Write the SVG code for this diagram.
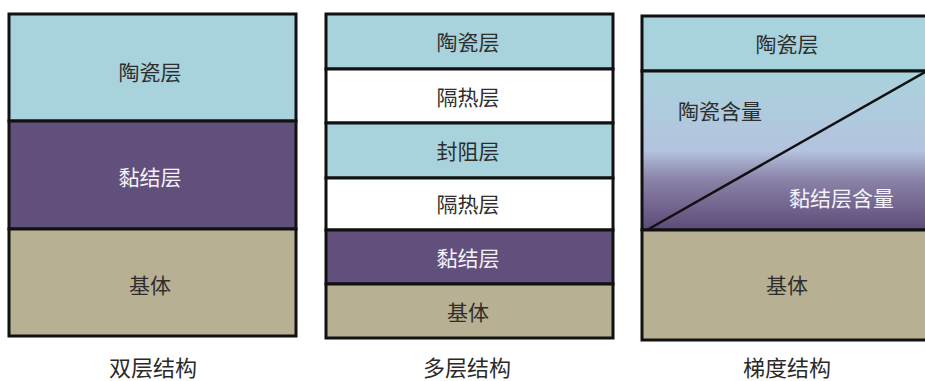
<svg xmlns="http://www.w3.org/2000/svg" width="925" height="381" viewBox="0 0 925 381">
<style>
.t{font-family:"Noto Sans CJK SC",sans-serif;font-size:21px;text-anchor:middle;fill:#2e2e2e}
.w{fill:#f4f2f8}
.cap{font-family:"Noto Sans CJK SC",sans-serif;font-size:22px;text-anchor:middle;fill:#2a2a2a}
.b{stroke:#111;stroke-width:3}
.blue{fill:#a8d3dc}.pur{fill:#614f7c}.tan{fill:#b8b093}.wh{fill:#fff}
</style>
<defs>
<linearGradient id="g" x1="0" y1="0" x2="0" y2="1">
<stop offset="0" stop-color="#a9d3dd"/>
<stop offset="0.5" stop-color="#b4c3de"/>
<stop offset="0.68" stop-color="#8b83a8"/>
<stop offset="1" stop-color="#5d4b78"/>
</linearGradient>
</defs>
<g id="double">
<rect class="blue b" x="9" y="14" width="287" height="107"/>
<rect class="pur b" x="9" y="121" width="287" height="108"/>
<rect class="tan b" x="9" y="229" width="287" height="107"/>
<text class="t" x="150" y="80">陶瓷层</text>
<text class="t w" x="150" y="185">黏结层</text>
<text class="t" x="150" y="293">基体</text>
<text class="cap" x="153" y="376">双层结构</text>
</g>
<g id="multi">
<rect class="blue b" x="326" y="14" width="287" height="55"/>
<rect class="wh b" x="326" y="69" width="287" height="54"/>
<rect class="blue b" x="326" y="123" width="287" height="55"/>
<rect class="wh b" x="326" y="178" width="287" height="52"/>
<rect class="pur b" x="326" y="230" width="287" height="54"/>
<rect class="tan b" x="326" y="284" width="287" height="54"/>
<text class="t" x="468" y="50">陶瓷层</text>
<text class="t" x="468" y="105">隔热层</text>
<text class="t" x="468" y="159">封阻层</text>
<text class="t" x="468" y="212">隔热层</text>
<text class="t w" x="468" y="266">黏结层</text>
<text class="t" x="468" y="320">基体</text>
<text class="cap" x="467" y="376">多层结构</text>
</g>
<g id="gradient">
<rect class="blue b" x="642" y="16" width="290" height="55"/>
<rect fill="url(#g)" class="b" x="642" y="71" width="290" height="159"/>
<rect class="tan b" x="642" y="230" width="290" height="110"/>
<line x1="647" y1="230" x2="925" y2="72" stroke="#111" stroke-width="2.5"/>
<text class="t" x="787" y="52">陶瓷层</text>
<text class="t" x="678" y="119" style="text-anchor:start">陶瓷含量</text>
<text class="t w" x="789" y="206" style="text-anchor:start">黏结层含量</text>
<text class="t" x="787" y="293">基体</text>
<text class="cap" x="787" y="376">梯度结构</text>
</g>
</svg>
